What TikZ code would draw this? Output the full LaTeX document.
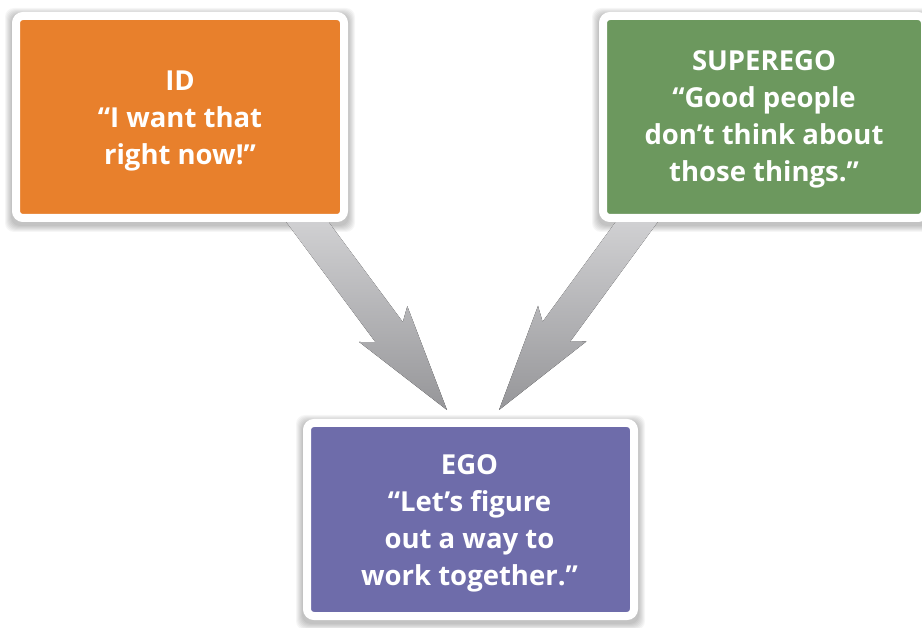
\documentclass[tikz,border=0pt]{standalone}
\usepackage{fontspec}
\setmainfont{Open Sans}
\usetikzlibrary{calc}
\definecolor{idorange}{RGB}{232,128,44}
\definecolor{supgreen}{RGB}{108,152,94}
\definecolor{egopurple}{RGB}{110,108,170}
\definecolor{arrowtop}{RGB}{214,214,216}
\definecolor{arrowbot}{RGB}{150,150,153}
\pgfdeclarelayer{bglayer}
\pgfdeclarelayer{shadowlayer}
\pgfdeclarelayer{arrowlayer}
\pgfsetlayers{bglayer,shadowlayer,arrowlayer,main}
\newcommand\boxshadow[1]{%
  \begin{pgfonlayer}{shadowlayer}
    \foreach \s in {1,2,3,4,5,6,7}{
      \fill[black, opacity=0.035, rounded corners=9pt]
        ($(#1.north west)+(-\s,-\s+3)$) rectangle ($(#1.south east)+(\s,\s+3)$);
    }
  \end{pgfonlayer}}
\newcommand\fatarrow[2]{%
  \coordinate (fj) at ($(#2)!97pt!(#1)$);
  \coordinate (fh) at ($(#2)!107pt!(#1)$);
  \begin{pgfonlayer}{arrowlayer}
  \fill[top color=arrowtop, bottom color=arrowbot]
    ($(#1)!17pt!90:(#2)$) -- ($(fj)!17pt!90:(#2)$) -- ($(fh)!30pt!90:(#2)$) -- (#2)
    -- ($(fh)!30pt!-90:(#2)$) -- ($(fj)!17pt!-90:(#2)$) -- ($(#1)!17pt!-90:(#2)$) -- cycle;
  \end{pgfonlayer}}
\begin{document}
\begin{tikzpicture}[x=1pt,y=-1pt,
  box/.style={draw=white, line width=8pt, rounded corners=7pt, inner sep=0pt},
  boxtext/.style={align=center, text=white, inner sep=0pt,
    font=\fontsize{27.5}{37}\selectfont\bfseries}]
\useasboundingbox (0,0) rectangle (922,628);
\begin{pgfonlayer}{bglayer}
  \fill[white] (0,0) rectangle (922,628);
\end{pgfonlayer}

\node[box, fill=idorange, minimum width=328pt, minimum height=202pt] (id) at (180,117) {};
\node[box, fill=supgreen, minimum width=322pt, minimum height=202pt] (sup) at (764,117) {};
\node[box, fill=egopurple, minimum width=327pt, minimum height=193pt] (ego) at (470.5,519.5) {};

\node[boxtext] (idtext) at ($(id.center)+(0,3.5)$) {ID\\“I want that\\right now!”};
\node[boxtext] (suptext) at ($(sup.center)+(0,2)$)
  {SUPEREGO\\“Good people\\don’t think about\\those things.”};
\node[boxtext] (egotext) at ($(ego.center)+(-1,3.5)$)
  {EGO\\“Let’s figure\\out a way to\\work together.”};

\boxshadow{id}
\boxshadow{sup}
\boxshadow{ego}

\coordinate (idout) at (300,212);
\coordinate (egoinl) at (447,410);
\coordinate (supout) at (644,212);
\coordinate (egoinr) at (499,410);
\fatarrow{idout}{egoinl}
\fatarrow{supout}{egoinr}
\end{tikzpicture}
\end{document}
